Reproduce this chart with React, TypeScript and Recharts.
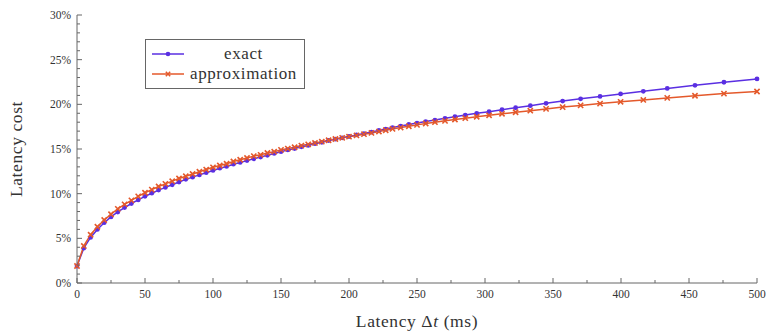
import React from "react";
import { LineChart, Line, XAxis, YAxis, Legend, Label } from "recharts";

// latency in ms (denser sampling at the start)
const LATENCY = [
  0, 5, 10, 15, 20, 25, 30, 35, 40, 45, 50, 55, 60, 65, 70, 75, 80, 85, 90, 95,
  100, 105, 110, 115, 120, 125, 130, 135, 140, 145, 150, 155, 160, 165, 170, 175,
  180, 185, 190, 195, 200, 205.5, 211, 216.5, 222, 227, 232, 238, 244, 250, 256.4,
  263.2, 270.6, 277.9, 285.5, 293.9, 303, 312.5, 322.5, 333.3, 344.9, 357.1, 370.3,
  384.6, 399.7, 416.4, 434, 454.4, 475.7, 500,
];

// latency cost in %
const EXACT = [
  1.9, 3.9, 5.1, 6.0, 6.75, 7.4, 7.95, 8.45, 8.9, 9.3, 9.7, 10.05, 10.4, 10.7, 11.0,
  11.3, 11.6, 11.85, 12.1, 12.35, 12.6, 12.85, 13.05, 13.3, 13.5, 13.7, 13.9, 14.1,
  14.3, 14.5, 14.7, 14.9, 15.05, 15.25, 15.4, 15.6, 15.75, 15.95, 16.1, 16.25, 16.4,
  16.57, 16.73, 16.9, 17.07, 17.23, 17.4, 17.57, 17.74, 17.9, 18.07, 18.24, 18.43,
  18.61, 18.8, 18.99, 19.18, 19.4, 19.62, 19.85, 20.11, 20.37, 20.62, 20.89, 21.17,
  21.46, 21.78, 22.13, 22.47, 22.84,
];

const APPROX = [
  1.9, 4.15, 5.4, 6.3, 7.05, 7.7, 8.3, 8.8, 9.25, 9.7, 10.1, 10.45, 10.8, 11.1, 11.4,
  11.7, 11.95, 12.2, 12.45, 12.7, 12.95, 13.15, 13.35, 13.6, 13.8, 14.0, 14.2, 14.35,
  14.55, 14.7, 14.9, 15.05, 15.2, 15.38, 15.52, 15.68, 15.82, 15.98, 16.12, 16.25,
  16.38, 16.52, 16.66, 16.8, 16.95, 17.1, 17.25, 17.4, 17.55, 17.7, 17.85, 18.0,
  18.15, 18.3, 18.45, 18.61, 18.77, 18.94, 19.11, 19.29, 19.49, 19.69, 19.88, 20.08,
  20.28, 20.49, 20.72, 20.96, 21.2, 21.44,
];

const X_TICKS = [0, 25, 50, 75, 100, 125, 150, 175, 200, 225, 250, 275, 300, 325, 350, 375, 400, 425, 450, 475, 500];
const Y_TICKS = [
  0, 1, 2, 3, 4, 5, 6, 7, 8, 9, 10, 11, 12, 13, 14, 15, 16, 17, 18, 19, 20, 21, 22,
  23, 24, 25, 26, 27, 28, 29, 30,
];

const LEGEND_ORDER = ["exact", "approx"];

const EXACT_COLOR = "#5a2fe2";
const APPROX_COLOR = "#e4592b";
const AXIS_COLOR = "#666";
const FONT = "Liberation Serif, DejaVu Serif, Times New Roman, serif";

const data = LATENCY.map((t, i) => ({ t, exact: EXACT[i], approx: APPROX[i] }));

const isMajorX = (v: number) => v % 50 === 0;
const isMajorY = (v: number) => v % 5 === 0;

function BottomTick({ x, y, payload }: any) {
  const major = isMajorX(payload.value);
  return (
    <g>
      <line x1={x} x2={x} y1={y} y2={y - (major ? 5 : 3)} stroke={AXIS_COLOR} />
      {major && (
        <text x={x} y={y + 15} textAnchor="middle" fontSize={11.5} fontFamily={FONT} fill="#333">
          {payload.value}
        </text>
      )}
    </g>
  );
}

function TopTick({ x, y, payload }: any) {
  const major = isMajorX(payload.value);
  return <line x1={x} x2={x} y1={y} y2={y + (major ? 5 : 3)} stroke={AXIS_COLOR} />;
}

function LeftTick({ x, y, payload }: any) {
  const major = isMajorY(payload.value);
  return (
    <g>
      <line x1={x} x2={x + (major ? 5 : 3)} y1={y} y2={y} stroke={AXIS_COLOR} />
      {major && (
        <text x={x - 6} y={y + 4} textAnchor="end" fontSize={11.5} fontFamily={FONT} fill="#333">
          {payload.value}%
        </text>
      )}
    </g>
  );
}

function RightTick({ x, y, payload }: any) {
  const major = isMajorY(payload.value);
  return <line x1={x} x2={x - (major ? 5 : 3)} y1={y} y2={y} stroke={AXIS_COLOR} />;
}

function CrossDot({ cx, cy }: any) {
  if (cx == null || cy == null) return <g />;
  const s = 2.6;
  return (
    <path
      d={`M${cx - s},${cy - s}L${cx + s},${cy + s}M${cx - s},${cy + s}L${cx + s},${cy - s}`}
      stroke={APPROX_COLOR}
      strokeWidth={1.6}
      fill="none"
    />
  );
}

function LegendBox({ payload }: any) {
  const items = [...(payload || [])].sort(
    (a: any, b: any) => LEGEND_ORDER.indexOf(a.dataKey) - LEGEND_ORDER.indexOf(b.dataKey)
  );
  return (
    <div
      style={{
        position: "relative",
        width: 160,
        height: 50,
        boxSizing: "border-box",
        border: `1px solid ${AXIS_COLOR}`,
        background: "#fff",
        fontFamily: FONT,
        fontSize: 17,
        color: "#333",
      }}
    >
      {items.map((it: any, i: number) => (
        <div key={it.value} style={{ position: "absolute", left: 0, top: 4 + i * 20, width: "100%", height: 20 }}>
          <svg width={34} height={20} style={{ position: "absolute", left: 5, top: 0 }}>
            <line x1={1} x2={33} y1={10} y2={10} stroke={it.color} strokeWidth={1.5} />
            {it.dataKey === "exact" ? (
              <circle cx={17} cy={10} r={2.3} fill={it.color} />
            ) : (
              <path d="M14.8,7.8L19.2,12.2M14.8,12.2L19.2,7.8" stroke={it.color} strokeWidth={1.5} />
            )}
          </svg>
          <div
            style={{
              position: "absolute",
              left: 40,
              width: 115,
              top: 0,
              lineHeight: "20px",
              textAlign: "center",
              letterSpacing: 0.6,
            }}
          >
            {it.value}
          </div>
        </div>
      ))}
    </div>
  );
}

export default function App() {
  return (
    <div style={{ position: "absolute", left: 0, top: 0, background: "#fff" }}>
      <LineChart width={770} height={331} data={data} margin={{ top: 15, right: 13, bottom: 0, left: 0 }}>
        <XAxis
          dataKey="t"
          type="number"
          domain={[0, 500]}
          ticks={X_TICKS}
          interval={0}
          height={48}
          tickSize={0}
          tickMargin={0}
          tickLine={false}
          tick={<BottomTick />}
          axisLine={{ stroke: AXIS_COLOR }}
        >
          <Label
            content={({ viewBox }: any) => (
              <text
                x={viewBox.x + viewBox.width / 2}
                y={viewBox.y + 44}
                textAnchor="middle"
                fontSize={17.5}
                fontFamily={FONT}
                fill="#333"
                letterSpacing={0.6}
              >
                Latency Δ<tspan fontStyle="italic">t</tspan> (ms)
              </text>
            )}
          />
        </XAxis>
        <XAxis
          xAxisId="top"
          orientation="top"
          dataKey="t"
          type="number"
          domain={[0, 500]}
          ticks={X_TICKS}
          interval={0}
          height={0}
          tickSize={0}
          tickMargin={0}
          tickLine={false}
          tick={<TopTick />}
          axisLine={{ stroke: AXIS_COLOR }}
        />
        <YAxis
          type="number"
          domain={[0, 30]}
          ticks={Y_TICKS}
          interval={0}
          width={77}
          tickSize={0}
          tickMargin={0}
          tickLine={false}
          tick={<LeftTick />}
          axisLine={{ stroke: AXIS_COLOR }}
        >
          <Label
            content={({ viewBox }: any) => (
              <text
                x={22}
                y={viewBox.y + viewBox.height / 2}
                transform={`rotate(-90 22 ${viewBox.y + viewBox.height / 2})`}
                textAnchor="middle"
                fontSize={17.5}
                fontFamily={FONT}
                fill="#333"
                letterSpacing={0.6}
              >
                Latency cost
              </text>
            )}
          />
        </YAxis>
        <YAxis
          yAxisId="right"
          orientation="right"
          type="number"
          domain={[0, 30]}
          ticks={Y_TICKS}
          interval={0}
          width={0}
          tickSize={0}
          tickMargin={0}
          tickLine={false}
          tick={<RightTick />}
          axisLine={{ stroke: AXIS_COLOR }}
        />
        <Legend
          layout="vertical"
          align="center"
          verticalAlign="middle"
          wrapperStyle={{ left: 145, top: 39, width: 160, height: 50 }}
          content={<LegendBox />}
        />
        <Line
          name="exact"
          dataKey="exact"
          type="linear"
          stroke={EXACT_COLOR}
          strokeWidth={1.5}
          dot={{ r: 2.4, fill: EXACT_COLOR, stroke: "none" }}
          activeDot={false}
          isAnimationActive={false}
        />
        <Line
          name="approximation"
          dataKey="approx"
          type="linear"
          stroke={APPROX_COLOR}
          strokeWidth={1.5}
          dot={<CrossDot />}
          activeDot={false}
          isAnimationActive={false}
        />
      </LineChart>
    </div>
  );
}
